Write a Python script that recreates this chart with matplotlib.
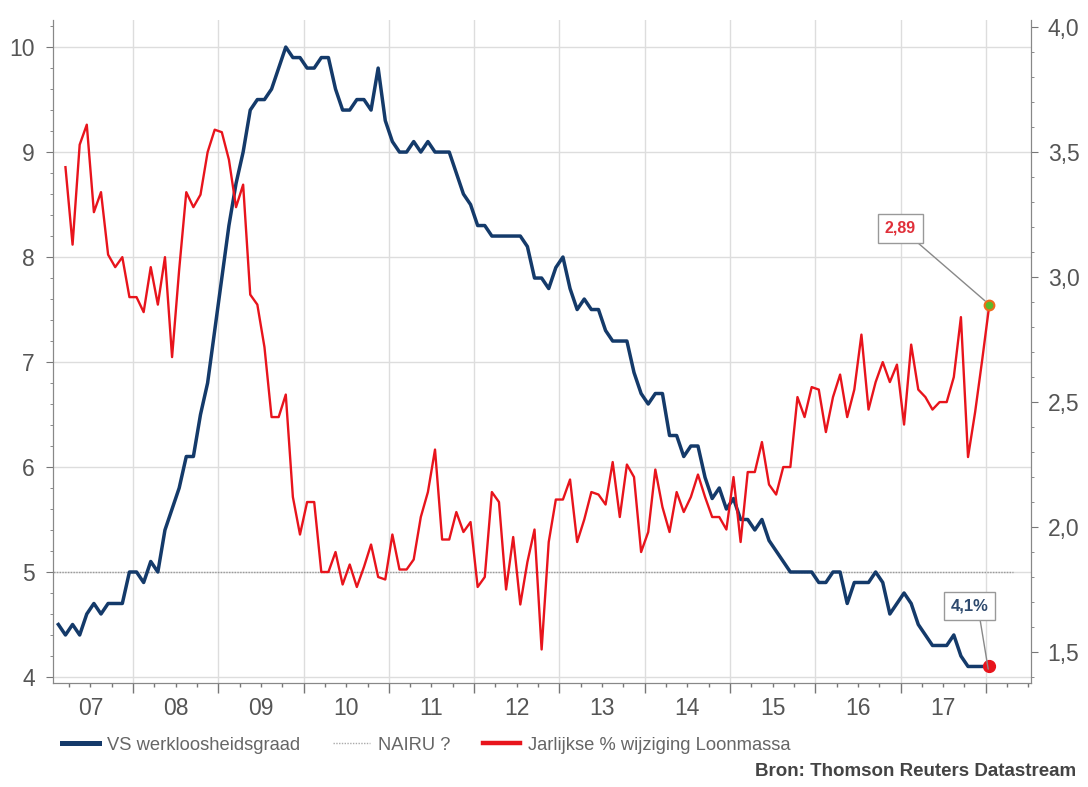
import matplotlib.pyplot as plt
import matplotlib.transforms as mtransforms
from matplotlib.lines import Line2D
from matplotlib.ticker import MultipleLocator, FuncFormatter

plt.rcParams['font.family'] = ['Liberation Sans', 'DejaVu Sans']

# VS werkloosheidsgraad, maandelijks feb 2007 - jan 2018
unemployment = [4.5, 4.4, 4.5, 4.4, 4.6, 4.7, 4.6, 4.7, 4.7, 4.7, 5.0,
                5.0, 4.9, 5.1, 5.0, 5.4, 5.6, 5.8, 6.1, 6.1, 6.5, 6.8, 7.3,
                7.8, 8.3, 8.7, 9.0, 9.4, 9.5, 9.5, 9.6, 9.8, 10.0, 9.9, 9.9,
                9.8, 9.8, 9.9, 9.9, 9.6, 9.4, 9.4, 9.5, 9.5, 9.4, 9.8, 9.3,
                9.1, 9.0, 9.0, 9.1, 9.0, 9.1, 9.0, 9.0, 9.0, 8.8, 8.6, 8.5,
                8.3, 8.3, 8.2, 8.2, 8.2, 8.2, 8.2, 8.1, 7.8, 7.8, 7.7, 7.9,
                8.0, 7.7, 7.5, 7.6, 7.5, 7.5, 7.3, 7.2, 7.2, 7.2, 6.9, 6.7,
                6.6, 6.7, 6.7, 6.3, 6.3, 6.1, 6.2, 6.2, 5.9, 5.7, 5.8, 5.6,
                5.7, 5.5, 5.5, 5.4, 5.5, 5.3, 5.2, 5.1, 5.0, 5.0, 5.0, 5.0,
                4.9, 4.9, 5.0, 5.0, 4.7, 4.9, 4.9, 4.9, 5.0, 4.9, 4.6, 4.7,
                4.8, 4.7, 4.5, 4.4, 4.3, 4.3, 4.3, 4.4, 4.2, 4.1, 4.1, 4.1,
                4.1]

# Jaarlijkse % wijziging loonmassa, maandelijks mrt 2007 - jan 2018
wages = [3.44, 3.13, 3.53, 3.61, 3.26, 3.34, 3.09, 3.04, 3.08, 2.92,
         2.92, 2.86, 3.04, 2.89, 3.08, 2.68, 3.03, 3.34, 3.28, 3.33, 3.50, 3.59,
         3.58, 3.47, 3.28, 3.37, 2.93, 2.89, 2.72, 2.44, 2.44, 2.53, 2.12, 1.97,
         2.10, 2.10, 1.82, 1.82, 1.90, 1.77, 1.85, 1.76, 1.84, 1.93, 1.80, 1.79,
         1.97, 1.83, 1.83, 1.87, 2.04, 2.14, 2.31, 1.95, 1.95, 2.06, 1.98, 2.02,
         1.76, 1.80, 2.14, 2.10, 1.75, 1.96, 1.69, 1.86, 1.99, 1.51, 1.94, 2.11,
         2.11, 2.19, 1.94, 2.03, 2.14, 2.13, 2.09, 2.26, 2.04, 2.25, 2.20, 1.90,
         1.98, 2.23, 2.08, 1.98, 2.14, 2.06, 2.12, 2.21, 2.12, 2.04, 2.04, 1.99,
         2.20, 1.94, 2.22, 2.22, 2.34, 2.17, 2.13, 2.24, 2.24, 2.52, 2.44, 2.56,
         2.55, 2.38, 2.52, 2.61, 2.44, 2.55, 2.77, 2.47, 2.58, 2.66, 2.58, 2.65,
         2.41, 2.73, 2.55, 2.52, 2.47, 2.50, 2.50, 2.60, 2.84, 2.28, 2.46, 2.67,
         2.89]

nairu = 5.0
years = list(range(2007, 2018))
year_labels = ['07', '08', '09', '10', '11', '12', '13', '14', '15', '16', '17']


def month_axis(start_year, start_month, n):
    # midden van de maand als fractie van het jaar
    out = []
    for i in range(n):
        m = start_month - 1 + i
        out.append(start_year + m // 12 + (m % 12 + 0.5) / 12)
    return out


x_unemp = month_axis(2007, 2, len(unemployment))
x_wages = month_axis(2007, 3, len(wages))

blue = '#143a6a'
red = '#e8141c'
grey_txt = '#555555'

fig = plt.figure(figsize=(10.88, 7.87), dpi=100)
ax = fig.add_axes([0.0487, 0.1322, 0.8989, 0.8424])
ax2 = ax.twinx()

# grid + NAIRU
ax.set_axisbelow(True)
ax.grid(True, which='major', color='#dddddd', lw=1)
ax.plot([2007.0, 2018.32], [nairu, nairu], ls=(0, (1, 1)), color='#999999', lw=1)

ax.plot(x_unemp, unemployment, color=blue, lw=2.5, solid_joinstyle='round')
ax2.plot(x_wages, wages, color=red, lw=1.7, solid_joinstyle='round')

# laatste punten
ax.plot(x_unemp[-1], unemployment[-1], 'o', ms=8.5, color=red, zorder=5)
ax2.plot(x_wages[-1], wages[-1], 'o', ms=7, mfc='#5cb82a', mec='#f06a1a', mew=1.5, zorder=5)

ax2.annotate(f'{wages[-1]:.2f}'.replace('.', ','), xy=(x_wages[-1], wages[-1]),
             xytext=(2017.0, 3.195), textcoords='data', ha='center', va='center',
             fontsize=11.5, fontweight='bold', color='#e0303a',
             bbox=dict(boxstyle='square,pad=0.45', fc='white', ec='#999999', lw=1),
             arrowprops=dict(arrowstyle='-', color='#888888', lw=1, relpos=(0.8, 0),
                             shrinkA=0, shrinkB=4))
ax2.annotate(f'{unemployment[-1]:.1f}%'.replace('.', ','),
             xy=(x_wages[-1], 1.5 - (676 - 652) / 250.0),
             xytext=(2017.81, 1.5 + (652 - 606) / 250.0), textcoords='data',
             ha='center', va='center', fontsize=12, fontweight='bold', color='#2e4a6e',
             bbox=dict(boxstyle='square,pad=0.4', fc='white', ec='#999999', lw=1),
             arrowprops=dict(arrowstyle='-', color='#888888', lw=1, relpos=(0.75, 0),
                             shrinkA=0, shrinkB=5))

# assen
ax.set_xlim(2007.062, 2018.53)
ax.set_ylim(3.943, 10.258)
ax2.set_ylim(1.376, 4.029)

ax.set_xticks(list(range(2008, 2019)))
ax.xaxis.set_minor_locator(MultipleLocator(0.25))
ax.set_xticklabels([])
ax.tick_params(axis='x', which='major', length=7, color='#777777', width=1)
ax.tick_params(axis='x', which='minor', length=3, color='#777777', width=1)

ax.yaxis.set_major_locator(MultipleLocator(1))
ax.yaxis.set_minor_locator(MultipleLocator(0.2))
ax.tick_params(axis='y', which='major', length=5, color='#777777', labelsize=16.5,
               labelcolor=grey_txt, pad=8)
ax.tick_params(axis='y', which='minor', length=2.5, color='#777777')

ax2.yaxis.set_major_locator(MultipleLocator(0.5))
ax2.yaxis.set_minor_locator(MultipleLocator(0.1))
ax2.yaxis.set_major_formatter(FuncFormatter(lambda v, p: f'{v:.1f}'.replace('.', ',')))
ax2.tick_params(axis='y', which='major', length=5, color='#777777', labelsize=16.5,
                labelcolor=grey_txt, pad=7)
ax2.tick_params(axis='y', which='minor', length=2.5, color='#777777')

for a in (ax, ax2):
    a.spines['top'].set_visible(False)
    for s in ('left', 'right', 'bottom'):
        a.spines[s].set_color('#888888')

# jaarlabels midden in het jaar
trans = mtransforms.blended_transform_factory(ax.transData, ax.transAxes)
for y, lab in zip(years, year_labels):
    ax.text(y + 0.5, -0.039, lab, transform=trans, ha='center', va='center',
            fontsize=16.5, color=grey_txt)

# legenda
handles = [Line2D([], [], color=blue, lw=3.6),
           Line2D([], [], color='#aaaaaa', lw=1, ls=(0, (1, 1))),
           Line2D([], [], color=red, lw=3.2)]
labels = ['VS werkloosheidsgraad', 'NAIRU ?', 'Jarlijkse % wijziging Loonmassa']
fig.legend(handles, labels, loc='center left', bbox_to_anchor=(0.057, 1 - 745 / 787),
           ncol=3, frameon=False, fontsize=13.2, labelcolor='#666666', borderpad=0,
           borderaxespad=0, handlelength=2.0, handletextpad=0.45, columnspacing=1.8)

fig.text(0.989, 1 - 772 / 787, 'Bron: Thomson Reuters Datastream', ha='right', va='center',
         fontsize=13.5, fontweight='bold', color='#444444')

fig.savefig('out.png', dpi=100)
